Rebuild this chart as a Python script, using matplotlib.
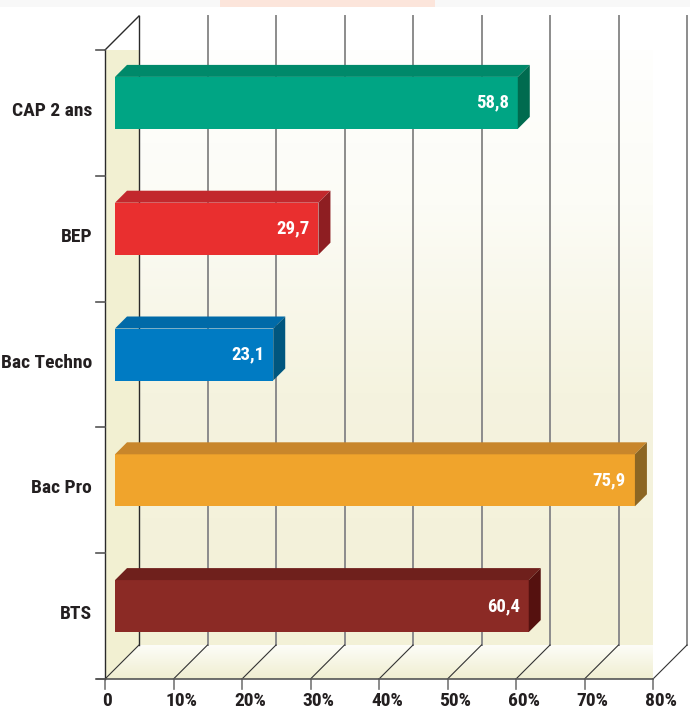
import matplotlib.pyplot as plt
import numpy as np
from matplotlib import font_manager
from matplotlib.patches import Polygon, Rectangle
from matplotlib.colors import LinearSegmentedColormap

# données
categories = ['CAP 2 ans', 'BEP', 'Bac Techno', 'Bac Pro', 'BTS']
values = [58.8, 29.7, 23.1, 75.9, 60.4]
value_labels = ['58,8', '29,7', '23,1', '75,9', '60,4']
tick_values = [0, 10, 20, 30, 40, 50, 60, 70, 80]
tick_labels = ['0', '10%', '20%', '30%', '40%', '50%', '60%', '70%', '80%']

front_colors = ['#00a584', '#e92f2f', '#007bc3', '#f0a42c', '#8b2a25']
top_colors = ['#00896a', '#c2282d', '#006aa8', '#c8862b', '#6f201c']
side_colors = ['#006b4f', '#8e1e22', '#00567f', '#8c6623', '#55110f']

# police étroite si disponible, sinon Liberation Sans un peu plus petite
noms = {f.name for f in font_manager.fontManager.ttflist}
etroites = [n for n in ['Liberation Sans Narrow', 'Roboto Condensed', 'Open Sans Condensed',
                        'Noto Sans Condensed', 'DejaVu Sans Condensed'] if n in noms]
if etroites:
    FONT = [etroites[0], 'DejaVu Sans']
    t_cat, t_tick, t_val = 14, 14, 13.5
else:
    FONT = ['Liberation Sans', 'DejaVu Sans']
    t_cat, t_tick, t_val = 11.5, 10.5, 11.5
POIDS = 'heavy'

W, H = 690, 727
fig = plt.figure(figsize=(W / 100, H / 100), dpi=100)
fig.patch.set_facecolor('white')

# plan avant du graphique, en pixels
px_l, px_r, px_t, px_b = 105, 653, 50, 679
ax = fig.add_axes([px_l / W, 1 - px_b / H, (px_r - px_l) / W, (px_b - px_t) / H])
ax.axis('off')

kx = 80 / (px_r - px_l)   # % par pixel
ky = 5 / (px_b - px_t)    # catégorie par pixel
D = 34                    # profondeur du "3D" en pixels


def prof(x, y, d):
    # décalage en profondeur: d pixels vers la droite et vers le haut
    return (x + d * kx, y - d * ky)


# mur du fond (dégradé blanc -> crème)
bx0, by0 = prof(0, -0.5, D)
bx1, by1 = prof(80, 4.5, D)
grad = np.linspace(0, 1, 256).reshape(-1, 1)
cm_fond = LinearSegmentedColormap.from_list(
    'fond', [(0, '#ffffff'), (0.3, '#fcfcf6'), (0.6, '#f5f3df'), (1, '#f3f1d7')])
ax.imshow(grad, cmap=cm_fond, extent=(bx0, bx1, by1, by0), aspect='auto', zorder=0)

# sol
sol = Polygon([prof(0, 4.5, 0), prof(80, 4.5, 0), prof(80, 4.5, D), prof(0, 4.5, D)],
              closed=True, fc='none', ec='none')
ax.add_patch(sol)
cm_sol = LinearSegmentedColormap.from_list('sol', ['#fdfdf8', '#f0eed0'])
fx0, fy0 = prof(0, 4.5, D)
im = ax.imshow(grad, cmap=cm_sol, extent=(0, 80 + D * kx, 4.5, fy0), aspect='auto', zorder=0)
im.set_clip_path(sol)

# mur de gauche
ax.add_patch(Polygon([prof(0, -0.5, 0), prof(0, -0.5, D), prof(0, 4.5, D), prof(0, 4.5, 0)],
                     closed=True, fc='#f2f0d2', ec='none', zorder=0.5))

# lignes verticales du fond et diagonales du sol
for t, lab in zip(tick_values, tick_labels):
    xa, ya = prof(t, -0.5, D)
    xb, yb = prof(t, 4.5, D)
    col = '#2a2a2a' if t == 0 else '#8c8c8c'
    lw = 1.0 if t == 0 else 1.4
    ax.plot([xa, xb], [ya, yb], color=col, lw=lw, zorder=1, clip_on=False)
    xc, yc = prof(t, 4.5, 0)
    ax.plot([xc, xb], [yc, yb], color='#333333', lw=0.8, zorder=1, clip_on=False)
    # graduation
    ax.plot([t, t], [4.5, 4.5 + 10 * ky], color='#777777', lw=1.2, zorder=1, clip_on=False)
    dx = 2 if t == 0 else 8
    ax.text(t + dx * kx, 4.5 + 22 * ky, lab, ha='center', va='center',
            fontsize=t_tick, fontweight=POIDS, color='#231f20', family=FONT)

# axes avant
ax.plot([-8 * kx, 80], [4.5, 4.5], color='#555555', lw=1.2, zorder=1, clip_on=False)
ax.plot([0, 0], [-0.5, 4.5], color='#2a2a2a', lw=1.0, zorder=1, clip_on=False)
xa, ya = prof(0, -0.5, D)
ax.plot([0, xa], [-0.5, ya], color='#2a2a2a', lw=1.0, zorder=1, clip_on=False)
for b in np.arange(-0.5, 4.6, 1):
    ax.plot([-9 * kx, 0], [b, b], color='#555555', lw=1.2, zorder=1, clip_on=False)

# barres
d1, d2 = 10, 22
h = 52 * ky
yc = [i - d1 * ky for i in range(len(categories))]
ax.barh(yc, values, height=h, left=d1 * kx, color=front_colors, zorder=3)
for i, v in enumerate(values):
    haut = i - h / 2
    bas = i + h / 2
    top = [prof(0, haut, d1), prof(v, haut, d1), prof(v, haut, d2), prof(0, haut, d2)]
    side = [prof(v, haut, d1), prof(v, bas, d1), prof(v, bas, d2), prof(v, haut, d2)]
    ax.add_patch(Polygon(top, closed=True, fc=top_colors[i], ec='none', zorder=3, clip_on=False))
    ax.add_patch(Polygon(side, closed=True, fc=side_colors[i], ec='none', zorder=3, clip_on=False))
    ax.text(v + (d1 - 9) * kx, yc[i], value_labels[i], ha='right', va='center',
            fontsize=t_val, fontweight=POIDS, color='white', family=FONT, zorder=4)
    ax.text(-13 * kx, i - 2 * ky, categories[i], ha='right', va='center',
            fontsize=t_cat, fontweight=POIDS, color='#231f20', family=FONT)

ax.set_xlim(0, 80)
ax.set_ylim(4.5, -0.5)

# bande grise très claire et bande rose en haut
fig.patches.append(Rectangle((0, 1 - 7 / H), 1, 7 / H, transform=fig.transFigure,
                             fc='#f8f8f8', ec='none'))
fig.patches.append(Rectangle((220 / W, 1 - 7 / H), 215 / W, 7 / H, transform=fig.transFigure,
                             fc='#fce5db', ec='none'))

fig.savefig('out.png', dpi=100)
